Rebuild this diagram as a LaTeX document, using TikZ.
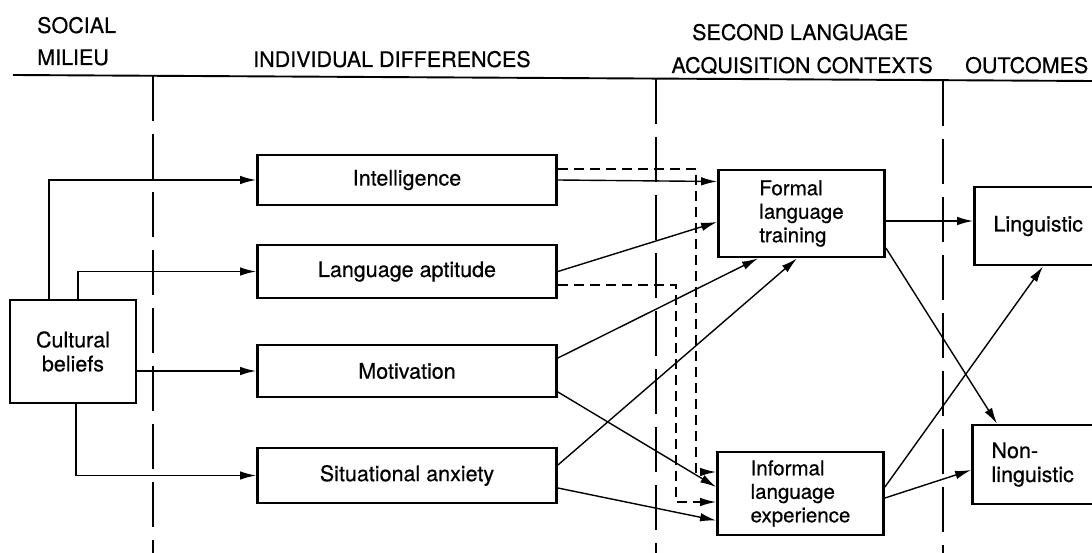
\documentclass[tikz,border=0pt]{standalone}
\usepackage{fontspec}
\setmainfont[FakeBold=0.5]{TeX Gyre Heros}
\usetikzlibrary{arrows.meta,calc}
\begin{document}
\begin{tikzpicture}[x=1pt,y=-1pt,
  box/.style={draw, line width=2.8pt, inner sep=0pt, font=\fontsize{21.5}{24}\selectfont, align=center},
  ctx/.style={draw, line width=2.8pt, inner sep=0pt, font=\fontsize{20.5}{23.5}\selectfont, align=left, minimum width=166pt, minimum height=86pt},
  outc/.style={draw, line width=2.8pt, inner ysep=0pt, inner xsep=19pt, text width=95pt, font=\fontsize{21.5}{24}\selectfont, align=left},
  hdr/.style={inner sep=0pt, font=\fontsize{21.5}{24}\selectfont},
  arr/.style={-{Latex[length=16pt,width=8.5pt]}, line width=1.4pt},
  darr/.style={arr, dash pattern=on 10pt off 6pt},
  vline/.style={line width=1.6pt, dash pattern=on 45pt off 13pt}]
\useasboundingbox (0,0) rectangle (1092,553);

% headers
\node[hdr, anchor=base west] (h1) at (37,33) {SOCIAL};
\node[hdr, anchor=base west] (h2) at (37,65) {MILIEU};
\node[hdr, anchor=base west] (h3) at (253,67) {INDIVIDUAL DIFFERENCES};
\node[hdr, anchor=base west] (h4) at (692,40) {SECOND LANGUAGE};
\node[hdr, anchor=base east] (h5) at (933,73) {ACQUISITION CONTEXTS};
\node[hdr, anchor=base west] (h6) at (965,73) {OUTCOMES};
\draw[line width=1.9pt] (13,75) -- (1092,81);

% column separators
\draw[vline] (153,76) -- (153,553);
\draw[vline] (656,79) -- (656,553);
\draw[vline] (943,81) -- (943,553);

% boxes
\node[box, minimum width=126pt, minimum height=103pt] (cb) at (73,351.5) {Cultural\\beliefs};
\node[box, minimum width=299pt, minimum height=50pt] (int) at (407,180) {Intelligence};
\node[box, minimum width=299pt, minimum height=53pt] (apt) at (407,271.5) {Language aptitude};
\node[box, minimum width=299pt, minimum height=52pt] (mot) at (407,371) {Motivation};
\node[box, minimum width=299pt, minimum height=55pt] (sit) at (407,475.5) {Situational anxiety};
\node[ctx, minimum height=87pt] (fl) at (801.5,213.5) {Formal\\language\\training};
\node[ctx, minimum height=83pt] (inf) at (800.5,493.5) {Informal\\language\\experience};
\node[outc, minimum height=78pt] (ling) at (1041,226) {Linguistic};
\node[outc, minimum height=79pt] (nl) at (1039,464.5) {Non-\\linguistic};

% cultural beliefs to individual differences
\draw[arr] ([xshift=-24pt]cb.north) |- (int.west);
\draw[arr] ([xshift=5pt]cb.north) |- (apt.west);
\draw[arr] (cb.east |- mot.west) -- (mot.west);
\draw[arr] ([xshift=3pt]cb.south) |- (sit.west);

% individual differences to contexts
\draw[arr] (int.east) -- ([yshift=-1.5pt]int.east -| fl.west);
\draw[darr] ([yshift=11pt]int.east) -| ([xshift=-20pt,yshift=21.5pt]inf.west) -- ([yshift=21.5pt]inf.west);
\draw[arr] (apt.east) -- ([yshift=-8.5pt]fl.west);
\draw[darr] ([yshift=-13.5pt]apt.east) -| ([xshift=-40pt,yshift=-8.5pt]inf.west) -- ([yshift=-8.5pt]inf.west);
\draw[arr] ([yshift=13pt]mot.east) -- ([xshift=-43.5pt]fl.south);
\draw[arr] ([yshift=-21pt]mot.east) -- ([yshift=6.5pt]inf.west);
\draw[arr] ([yshift=10.5pt]sit.east) -- ([xshift=-4.5pt]fl.south);
\draw[arr] ([yshift=-12.5pt]sit.east) -- ([yshift=-27pt]inf.west);

% contexts to outcomes
\draw[arr] ([yshift=-7.5pt]fl.east) -- ([yshift=5pt]ling.west);
\draw[arr] ([yshift=-34.5pt]fl.east) -- ([xshift=-42pt]nl.north);
\draw[arr] ([yshift=6.5pt]inf.east) -- ([xshift=2pt]ling.south);
\draw[arr] ([yshift=-4.5pt]inf.east) -- ([yshift=-5.5pt]nl.west);
\end{tikzpicture}
\end{document}
